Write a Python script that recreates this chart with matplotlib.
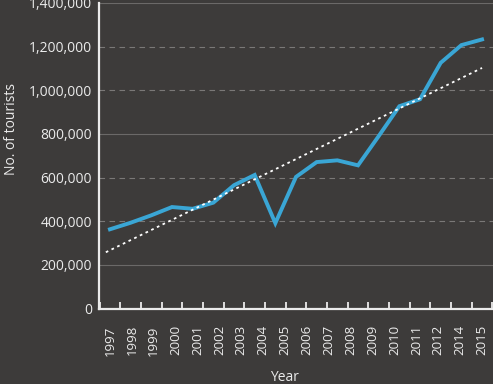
import matplotlib
matplotlib.use("Agg")
import matplotlib.pyplot as plt
import numpy as np

years = list(range(1997, 2016))
tourists = [363000, 393000, 427000, 465000, 457000, 485000, 565000, 612000,
            391000, 603000, 671000, 679000, 656000, 790000, 927000, 959000,
            1126000, 1207000, 1233000]
tick_labels = ["1997", "1998", "1999", "2000", "2001", "2002", "2003", "2004",
               "2005", "2006", "2007", "2008", "2009", "2010", "2011", "2012",
               "2014", "2015"]
y_ticks = [0, 200000, 400000, 600000, 800000, 1000000, 1200000, 1400000]

bg = "#3d3b3a"
fg = "#ebebeb"
plt.rcParams['font.family'] = ['Open Sans', 'DejaVu Sans']

fig = plt.figure(figsize=(4.93, 3.84), dpi=100, facecolor=bg)
ax = fig.add_axes([99/493, (384-308.5)/384, (493-99)/493, (308.5-3)/384])
ax.set_facecolor(bg)

x = np.arange(len(years))
ax.plot(x, tourists, color="#3aa6d5", lw=2.8, solid_joinstyle="miter", zorder=3)
coef = np.polyfit(x, tourists, 1)
ax.plot([x[0] - 0.2, x[-1]], np.polyval(coef, [x[0] - 0.2, x[-1]]),
        color="white", lw=1.3, ls=(0, (1.5, 2.0)), zorder=4)

x0 = -0.5
x1 = len(years) - 0.5
ax.set_xlim(x0 - 0.03, x1 + 0.03)
ax.set_ylim(0, 1400000)

# gridlines
solid = {800000, 1400000, 200000}
for v in y_ticks[1:]:
    if v in solid:
        ax.axhline(v, color="#6b6968", lw=0.8, zorder=1)
    else:
        ax.axhline(v, color="#7a7877", lw=0.8, ls=(0, (5, 4)), zorder=1)

ax.set_yticks(y_ticks)
ax.set_yticklabels([f"{v:,}" for v in y_ticks])
ax.tick_params(axis="y", length=0, pad=5, labelcolor=fg, labelsize=10)

lab_pos = np.linspace(x[0], x[-1], len(tick_labels))
ax.set_xticks(lab_pos)
ax.set_xticklabels(tick_labels, rotation=90)
ax.tick_params(axis="x", which="major", length=0, pad=12, labelcolor=fg, labelsize=9.5)
ax.set_xticks(np.linspace(x0, x1, len(years) + 1), minor=True)
ax.tick_params(axis="x", which="minor", length=5, width=1.3, color=fg, direction="in")

for s in ["top", "right"]:
    ax.spines[s].set_visible(False)
for s in ["left", "bottom"]:
    ax.spines[s].set_color(fg)
    ax.spines[s].set_linewidth(1.6)

ax.set_ylabel("No. of tourists", color=fg, fontsize=10)
ax.yaxis.set_label_coords((19 - 99) / 394, (308.5 - 129) / 305.5)
ax.set_xlabel("Year", color=fg, fontsize=10)
ax.xaxis.set_label_coords((285 - 99) / 394, -(370 - 308.5) / 305.5)

fig.savefig("out.png", dpi=100, facecolor=bg)
